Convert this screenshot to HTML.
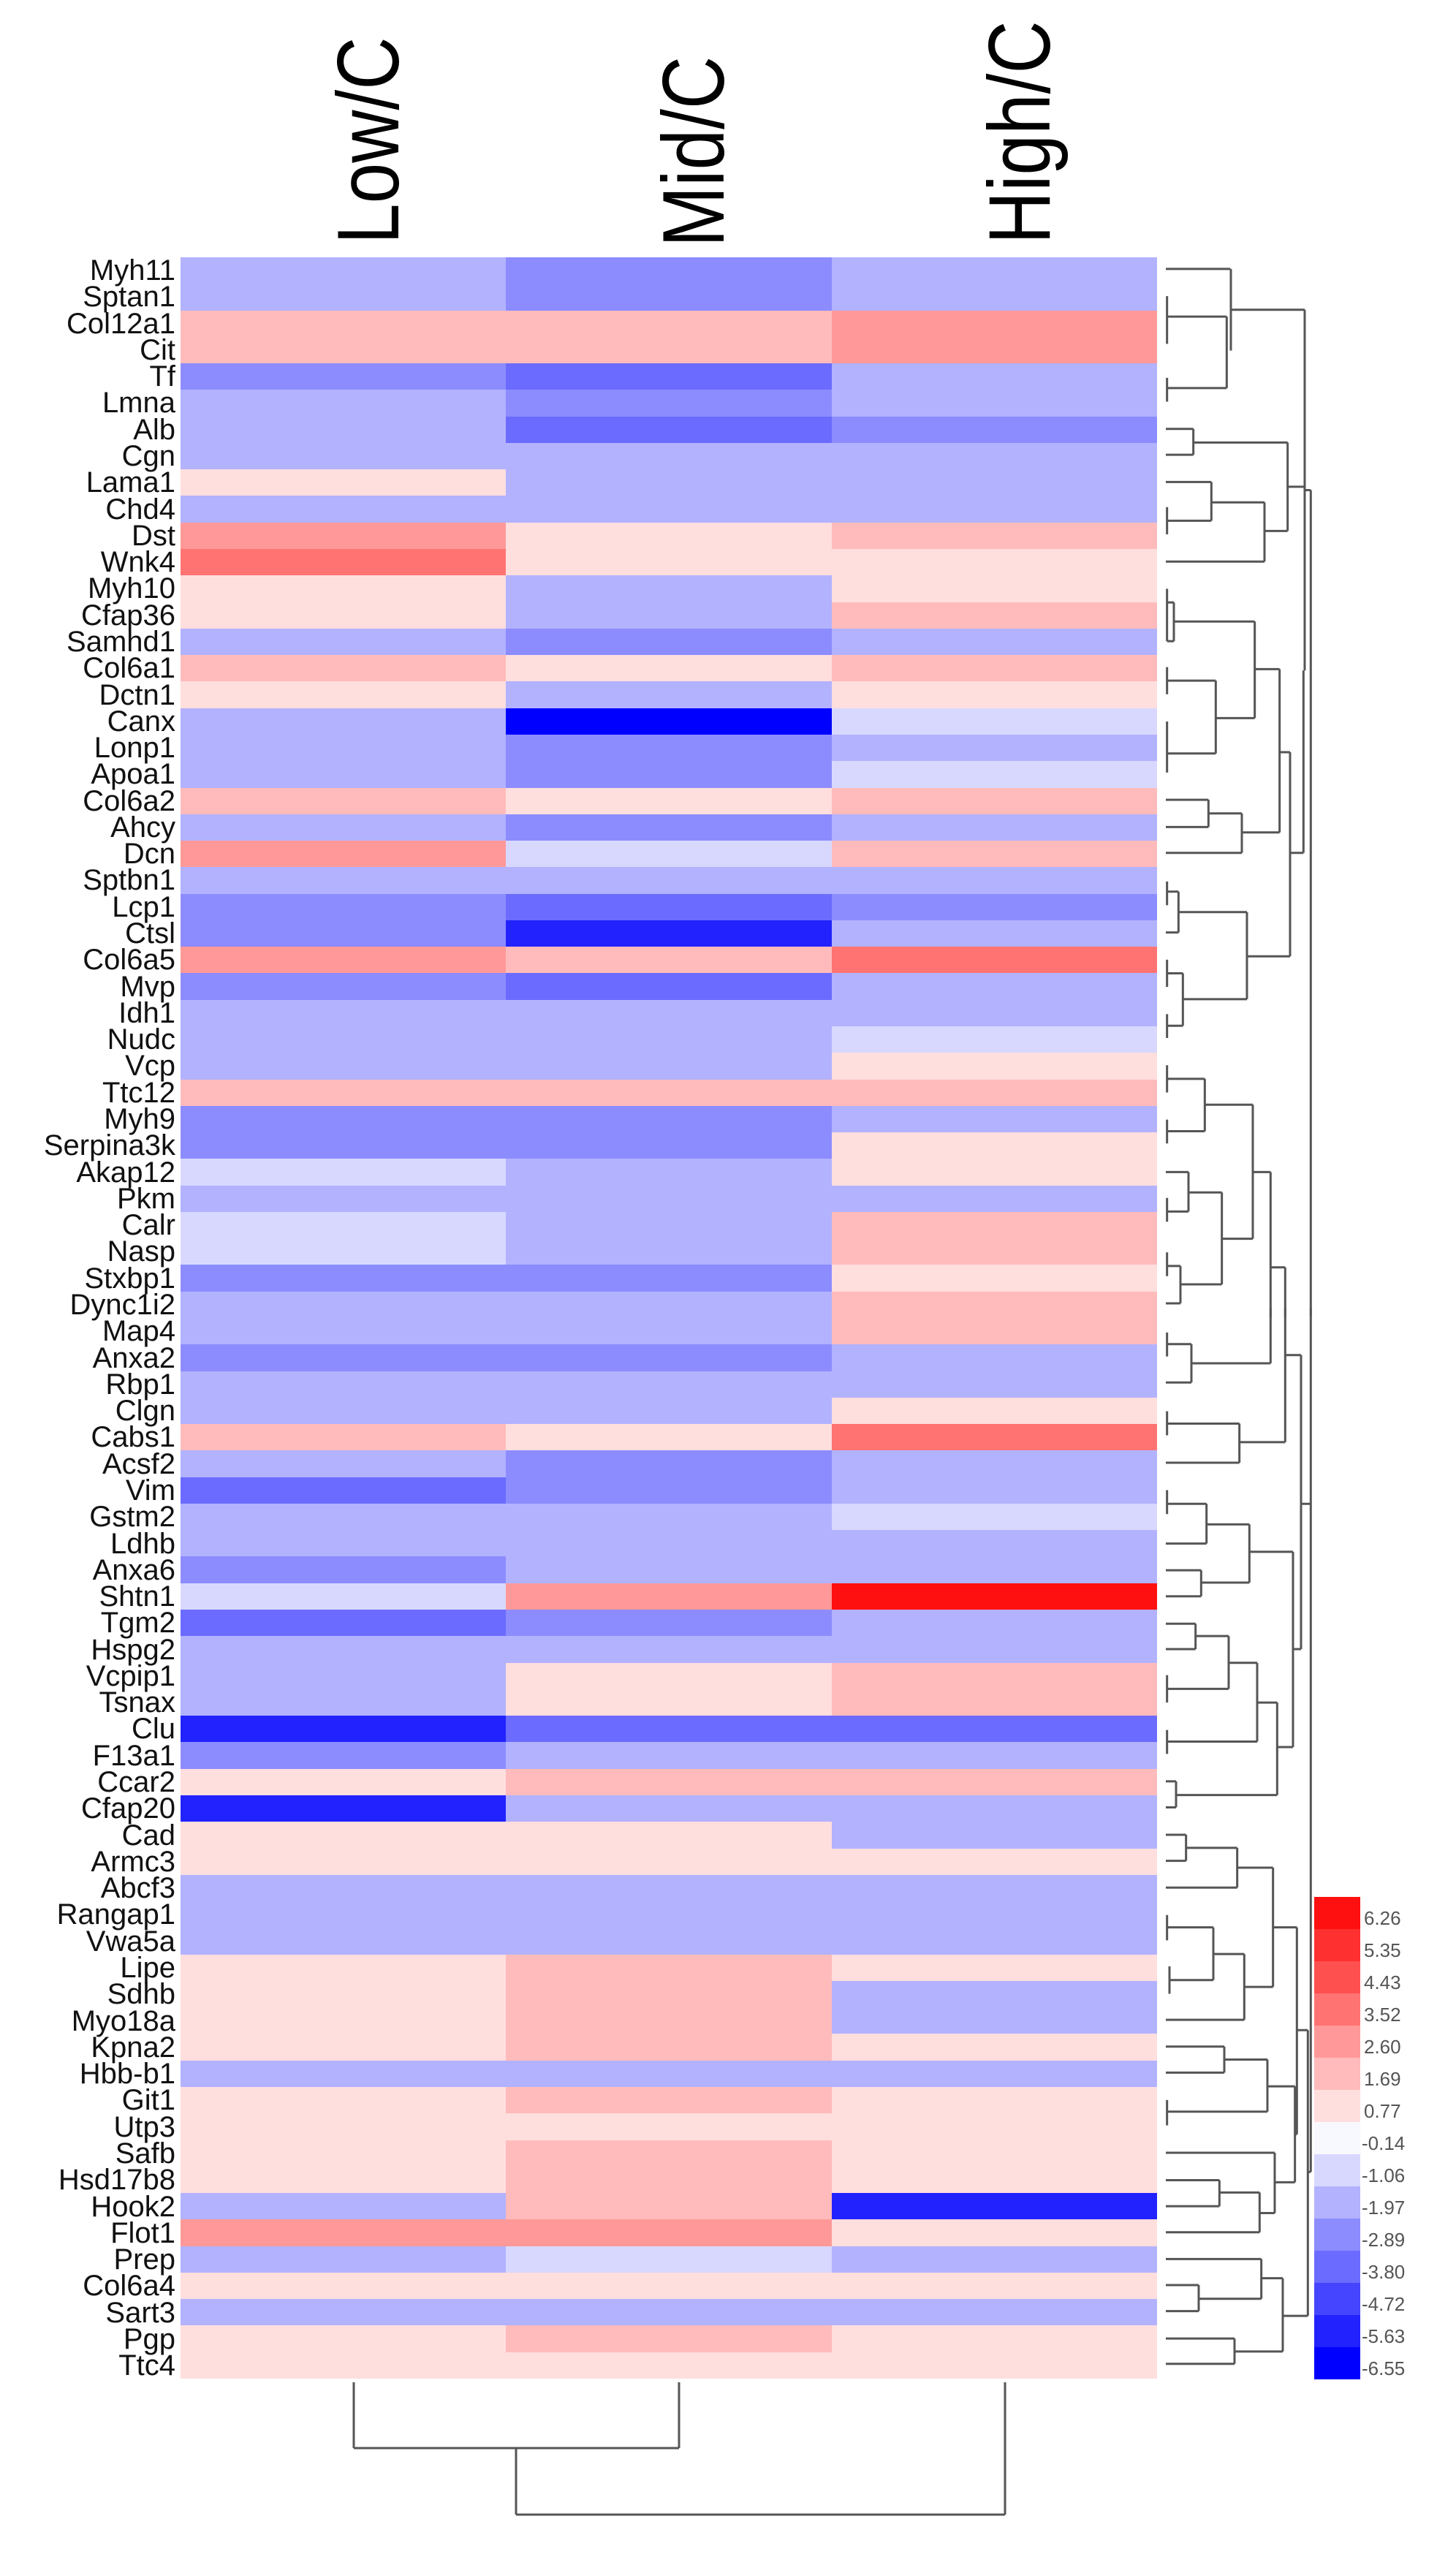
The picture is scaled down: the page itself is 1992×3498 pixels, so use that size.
<!DOCTYPE html>
<html><head><meta charset="utf-8"><style>
html,body{margin:0;padding:0;background:#fff;}
body{width:1992px;height:3498px;position:relative;overflow:hidden;font-family:"Liberation Sans",Arial,sans-serif;}
#hm{position:absolute;left:247px;top:352px;width:1336px;height:2902px;display:grid;grid-template-columns:repeat(3,1fr);grid-template-rows:repeat(80,1fr);}
.B0{background:#0000ff}.B1{background:#2222ff}.B2{background:#4545ff}.B3{background:#6b6bff}.B4{background:#8c8cff}.B5{background:#b2b2ff}.B6{background:#d8d8ff}.W{background:#f8f8ff}
.P1{background:#ffdede}.P2{background:#ffbbbb}.P3{background:#ff9999}.P4{background:#ff7373}.P5{background:#ff5050}.P6{background:#ff3030}.P7{background:#ff1010}
#lab{position:absolute;right:1752px;top:352px;text-align:right;font-size:40px;line-height:36.275px;color:#111;white-space:nowrap;}
svg{position:absolute;left:0;top:0;}
</style></head><body>
<div id="hm">
<div class="B5"></div><div class="B4"></div><div class="B5"></div>
<div class="B5"></div><div class="B4"></div><div class="B5"></div>
<div class="P2"></div><div class="P2"></div><div class="P3"></div>
<div class="P2"></div><div class="P2"></div><div class="P3"></div>
<div class="B4"></div><div class="B3"></div><div class="B5"></div>
<div class="B5"></div><div class="B4"></div><div class="B5"></div>
<div class="B5"></div><div class="B3"></div><div class="B4"></div>
<div class="B5"></div><div class="B5"></div><div class="B5"></div>
<div class="P1"></div><div class="B5"></div><div class="B5"></div>
<div class="B5"></div><div class="B5"></div><div class="B5"></div>
<div class="P3"></div><div class="P1"></div><div class="P2"></div>
<div class="P4"></div><div class="P1"></div><div class="P1"></div>
<div class="P1"></div><div class="B5"></div><div class="P1"></div>
<div class="P1"></div><div class="B5"></div><div class="P2"></div>
<div class="B5"></div><div class="B4"></div><div class="B5"></div>
<div class="P2"></div><div class="P1"></div><div class="P2"></div>
<div class="P1"></div><div class="B5"></div><div class="P1"></div>
<div class="B5"></div><div class="B0"></div><div class="B6"></div>
<div class="B5"></div><div class="B4"></div><div class="B5"></div>
<div class="B5"></div><div class="B4"></div><div class="B6"></div>
<div class="P2"></div><div class="P1"></div><div class="P2"></div>
<div class="B5"></div><div class="B4"></div><div class="B5"></div>
<div class="P3"></div><div class="B6"></div><div class="P2"></div>
<div class="B5"></div><div class="B5"></div><div class="B5"></div>
<div class="B4"></div><div class="B3"></div><div class="B4"></div>
<div class="B4"></div><div class="B1"></div><div class="B5"></div>
<div class="P3"></div><div class="P2"></div><div class="P4"></div>
<div class="B4"></div><div class="B3"></div><div class="B5"></div>
<div class="B5"></div><div class="B5"></div><div class="B5"></div>
<div class="B5"></div><div class="B5"></div><div class="B6"></div>
<div class="B5"></div><div class="B5"></div><div class="P1"></div>
<div class="P2"></div><div class="P2"></div><div class="P2"></div>
<div class="B4"></div><div class="B4"></div><div class="B5"></div>
<div class="B4"></div><div class="B4"></div><div class="P1"></div>
<div class="B6"></div><div class="B5"></div><div class="P1"></div>
<div class="B5"></div><div class="B5"></div><div class="B5"></div>
<div class="B6"></div><div class="B5"></div><div class="P2"></div>
<div class="B6"></div><div class="B5"></div><div class="P2"></div>
<div class="B4"></div><div class="B4"></div><div class="P1"></div>
<div class="B5"></div><div class="B5"></div><div class="P2"></div>
<div class="B5"></div><div class="B5"></div><div class="P2"></div>
<div class="B4"></div><div class="B4"></div><div class="B5"></div>
<div class="B5"></div><div class="B5"></div><div class="B5"></div>
<div class="B5"></div><div class="B5"></div><div class="P1"></div>
<div class="P2"></div><div class="P1"></div><div class="P4"></div>
<div class="B5"></div><div class="B4"></div><div class="B5"></div>
<div class="B3"></div><div class="B4"></div><div class="B5"></div>
<div class="B5"></div><div class="B5"></div><div class="B6"></div>
<div class="B5"></div><div class="B5"></div><div class="B5"></div>
<div class="B4"></div><div class="B5"></div><div class="B5"></div>
<div class="B6"></div><div class="P3"></div><div class="P7"></div>
<div class="B3"></div><div class="B4"></div><div class="B5"></div>
<div class="B5"></div><div class="B5"></div><div class="B5"></div>
<div class="B5"></div><div class="P1"></div><div class="P2"></div>
<div class="B5"></div><div class="P1"></div><div class="P2"></div>
<div class="B1"></div><div class="B3"></div><div class="B3"></div>
<div class="B4"></div><div class="B5"></div><div class="B5"></div>
<div class="P1"></div><div class="P2"></div><div class="P2"></div>
<div class="B1"></div><div class="B5"></div><div class="B5"></div>
<div class="P1"></div><div class="P1"></div><div class="B5"></div>
<div class="P1"></div><div class="P1"></div><div class="P1"></div>
<div class="B5"></div><div class="B5"></div><div class="B5"></div>
<div class="B5"></div><div class="B5"></div><div class="B5"></div>
<div class="B5"></div><div class="B5"></div><div class="B5"></div>
<div class="P1"></div><div class="P2"></div><div class="P1"></div>
<div class="P1"></div><div class="P2"></div><div class="B5"></div>
<div class="P1"></div><div class="P2"></div><div class="B5"></div>
<div class="P1"></div><div class="P2"></div><div class="P1"></div>
<div class="B5"></div><div class="B5"></div><div class="B5"></div>
<div class="P1"></div><div class="P2"></div><div class="P1"></div>
<div class="P1"></div><div class="P1"></div><div class="P1"></div>
<div class="P1"></div><div class="P2"></div><div class="P1"></div>
<div class="P1"></div><div class="P2"></div><div class="P1"></div>
<div class="B5"></div><div class="P2"></div><div class="B1"></div>
<div class="P3"></div><div class="P3"></div><div class="P1"></div>
<div class="B5"></div><div class="B6"></div><div class="B5"></div>
<div class="P1"></div><div class="P1"></div><div class="P1"></div>
<div class="B5"></div><div class="B5"></div><div class="B5"></div>
<div class="P1"></div><div class="P2"></div><div class="P1"></div>
<div class="P1"></div><div class="P1"></div><div class="P1"></div>
</div>
<div id="lab">Myh11<br>Sptan1<br>Col12a1<br>Cit<br>Tf<br>Lmna<br>Alb<br>Cgn<br>Lama1<br>Chd4<br>Dst<br>Wnk4<br>Myh10<br>Cfap36<br>Samhd1<br>Col6a1<br>Dctn1<br>Canx<br>Lonp1<br>Apoa1<br>Col6a2<br>Ahcy<br>Dcn<br>Sptbn1<br>Lcp1<br>Ctsl<br>Col6a5<br>Mvp<br>Idh1<br>Nudc<br>Vcp<br>Ttc12<br>Myh9<br>Serpina3k<br>Akap12<br>Pkm<br>Calr<br>Nasp<br>Stxbp1<br>Dync1i2<br>Map4<br>Anxa2<br>Rbp1<br>Clgn<br>Cabs1<br>Acsf2<br>Vim<br>Gstm2<br>Ldhb<br>Anxa6<br>Shtn1<br>Tgm2<br>Hspg2<br>Vcpip1<br>Tsnax<br>Clu<br>F13a1<br>Ccar2<br>Cfap20<br>Cad<br>Armc3<br>Abcf3<br>Rangap1<br>Vwa5a<br>Lipe<br>Sdhb<br>Myo18a<br>Kpna2<br>Hbb-b1<br>Git1<br>Utp3<br>Safb<br>Hsd17b8<br>Hook2<br>Flot1<br>Prep<br>Col6a4<br>Sart3<br>Pgp<br>Ttc4</div>
<svg width="1992" height="3498" viewBox="0 0 1992 3498">
<g font-family="Liberation Sans, Arial, sans-serif" font-size="100" fill="#000">
<text transform="translate(545,334) rotate(-90) scale(1,1.2)">Low/C</text>
<text transform="translate(990,338) rotate(-90) scale(1,1.2)">Mid/C</text>
<text transform="translate(1436,334) rotate(-90) scale(1,1.2)">High/C</text>
</g>
<g stroke="#555" stroke-width="3" fill="none">
<path d="M484 3259V3349M929 3259V3349M484 3349H929M706 3349V3440M706 3440H1375M1375 3259V3440"/>
</g>
<g transform="translate(1580,340) scale(0.3333,0.931)" stroke="#555" stroke-width="3" fill="none">
<path vector-effect="non-scaling-stroke" d="M45 30H310M50 70V140M50 100H295M50 190V225M50 205H295M295 100V205M312 30V150M312 90H615
M45 265H158M45 303H158M158 265V303M158 285H545M45 343H232M50 380V420M50 400H232M232 343V400M232 373H450M45 460H450M450 373V460M450 415H545M545 285V415M545 350H615M615 90V620M615 355H640M640 355V1568
M50 500V577M50 520H78M50 577H78M78 520V577M78 548H410M50 615V655M50 635H250M50 695V770M50 742H250M250 635V742M250 690H410M410 548V690M410 618H512
M45 810H220M45 850H220M220 810V850M220 830H357M45 888H357M357 830V888M357 858H512M512 618V858M512 740H555M555 740V1040M555 888H610M610 620V888
M50 930V965M50 945H97M45 1005H97M97 945V1005M97 975H378M50 1045V1085M50 1065H115M50 1125V1160M50 1142H115M115 1065V1142M115 1103H378M378 975V1103M378 1040H555
M50 1200V1240M50 1220H205M50 1280V1315M50 1297H205M205 1220V1297M205 1258H402M45 1357H138M50 1395V1430M50 1415H138M138 1357V1415M138 1387H275
M50 1475V1510M50 1495H105M45 1550H105M105 1495V1550M105 1522H275M275 1387V1522M275 1455H402M402 1258V1455M402 1357H475M475 1357V1570M475 1497H535M535 1497V1570"/>
</g>
<g transform="translate(1580,1790) scale(0.3333,0.9375)" stroke="#555" stroke-width="3" fill="none">
<path vector-effect="non-scaling-stroke" d="M475 0V80M535 0V195M50 35V70M50 52H150M45 108H150M150 52V108M150 80H475M50 150V185M50 168H347M45 225H347M347 168V225M347 195H535M535 68H600M600 68V497M600 285H640M640 0V1260M628 1260H640
M50 265V300M50 285H212M45 343H212M212 285V343M212 315H388M45 382H190M45 420H190M190 382V420M190 400H388M388 315V400M388 355H567
M45 460H167M45 497H167M167 460V497M167 478H303M50 535V575M50 555H303M303 478V555M303 517H420M50 615V650M50 632H420M420 517V632M420 575H502
M45 690H87M45 728H87M87 690V728M87 710H502M502 575V710M502 640H567M567 355V640M567 497H600
M45 768H128M45 806H128M128 768V806M128 787H338M45 845H338M338 787V845M338 816H485M50 885V922M50 903H240M60 960V1000M60 980H240M240 903V980M240 942H367M45 1038H367M367 942V1038M367 990H485M485 816V990M485 903H583M583 903V1205M583 1053H628
M45 1077H285M45 1115H285M285 1077V1115M285 1096H462M50 1155V1192M50 1172H462M462 1096V1172M462 1135H575M45 1232H492M45 1272H265M45 1310H265M265 1272V1310M265 1290H430M45 1348H430M430 1290V1348M430 1320H492M492 1232V1320M492 1275H575M575 1135V1275M575 1205H583
M45 1387H437M45 1425H180M45 1463H180M180 1425V1463M180 1445H437M437 1387V1445M437 1415H525M45 1503H327M45 1540H327M327 1503V1540M327 1522H525M525 1415V1522M525 1470H628M628 1053V1470"/>
</g>
<g>
<rect x="1798" y="2595" width="63" height="44" fill="#ff1010"/>
<rect x="1798" y="2639" width="63" height="44" fill="#ff3030"/>
<rect x="1798" y="2683" width="63" height="44" fill="#ff5050"/>
<rect x="1798" y="2727" width="63" height="44" fill="#ff7373"/>
<rect x="1798" y="2771" width="63" height="44" fill="#ff9999"/>
<rect x="1798" y="2815" width="63" height="44" fill="#ffbbbb"/>
<rect x="1798" y="2859" width="63" height="44" fill="#ffdede"/>
<rect x="1798" y="2903" width="63" height="44" fill="#f8f8ff"/>
<rect x="1798" y="2947" width="63" height="44" fill="#d8d8ff"/>
<rect x="1798" y="2991" width="63" height="44" fill="#b2b2ff"/>
<rect x="1798" y="3035" width="63" height="44" fill="#8c8cff"/>
<rect x="1798" y="3079" width="63" height="44" fill="#6b6bff"/>
<rect x="1798" y="3123" width="63" height="44" fill="#4545ff"/>
<rect x="1798" y="3167" width="63" height="44" fill="#2222ff"/>
<rect x="1798" y="3211" width="63" height="44" fill="#0000ff"/>
</g>
<g font-family="Liberation Sans, Arial, sans-serif" font-size="26" fill="#555">
<text x="1866" y="2633">6.26</text>
<text x="1866" y="2677">5.35</text>
<text x="1866" y="2721">4.43</text>
<text x="1866" y="2765">3.52</text>
<text x="1866" y="2809">2.60</text>
<text x="1866" y="2853">1.69</text>
<text x="1866" y="2897">0.77</text>
<text x="1863" y="2941">-0.14</text>
<text x="1863" y="2985">-1.06</text>
<text x="1863" y="3029">-1.97</text>
<text x="1863" y="3073">-2.89</text>
<text x="1863" y="3117">-3.80</text>
<text x="1863" y="3161">-4.72</text>
<text x="1863" y="3205">-5.63</text>
<text x="1863" y="3249">-6.55</text>
</g>
</svg>
</body></html>
